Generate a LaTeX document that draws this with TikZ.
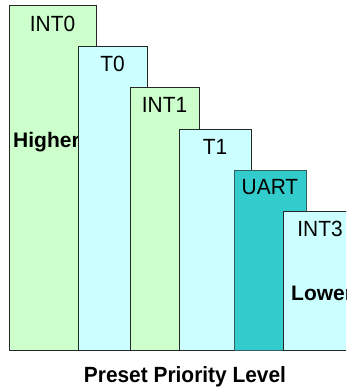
\documentclass[tikz,border=0pt]{standalone}
\usepackage{fontspec}
\setmainfont{Liberation Sans}

\definecolor{intgreen}{HTML}{CCFFCC}
\definecolor{tmrcyan}{HTML}{CCFFFF}
\definecolor{uartteal}{HTML}{33CCCC}
\definecolor{uartline}{HTML}{2F5F5F}

\newcommand{\narrow}[1]{\scalebox{0.95}[1]{#1}}

\tikzset{
  bar/.style={draw=black!85, line width=0.8pt, anchor=north west, inner sep=0pt, outer sep=0pt},
  tag/.style={font=\fontsize{22}{26}\selectfont, anchor=base, inner sep=0pt},
  side/.style={font=\bfseries\fontsize{21}{25}\selectfont, anchor=base west, inner sep=0pt}
}

\begin{document}
\begin{tikzpicture}[x=1pt,y=-1pt]
            \useasboundingbox (0,0) rectangle (346,388);
            \clip (0,0) rectangle (346,388);
            % bars, each one over the one before
            \node[bar, fill=intgreen, minimum width=87pt, minimum height=345pt] (I0) at (9,5) {};
            \node[tag] (I0t) at ([yshift=-26pt]I0.north) {\narrow{INT0}};
            \node[side] (hi) at (13,147) {Higher};
            \node[bar, fill=tmrcyan, minimum width=69pt, minimum height=304pt] (T0) at (78,46) {};
            \node[tag] (T0t) at ([yshift=-25pt]T0.north) {\narrow{T0}};
            \node[bar, fill=intgreen, minimum width=69pt, minimum height=263pt] (I1) at (130,87) {};
            \node[tag] (I1t) at ([yshift=-25pt]I1.north) {\narrow{INT1}};
            \node[bar, fill=tmrcyan, minimum width=72pt, minimum height=221pt] (T1) at (179,129) {};
            \node[tag] (T1t) at ([yshift=-25pt]T1.north) {\narrow{T1}};
            \node[bar, draw=uartline, fill=uartteal, minimum width=72pt, minimum height=180pt] (U) at (234,170) {};
            \node[tag] (Ut) at ([yshift=-24pt]U.north) {\narrow{UART}};
            \node[bar, fill=tmrcyan, minimum width=74pt, minimum height=139pt] (I3) at (283,211) {};
            \node[tag] (I3t) at ([yshift=-25pt]I3.north) {\narrow{INT3}};
            \node[side] (lo) at (291,300) {Lower};
            % axis caption
            \node[side, font=\bfseries\fontsize{22}{26}\selectfont, anchor=base] (lvl) at (185,382) {\narrow{Preset Priority Level}};
        \end{tikzpicture}
\end{document}
